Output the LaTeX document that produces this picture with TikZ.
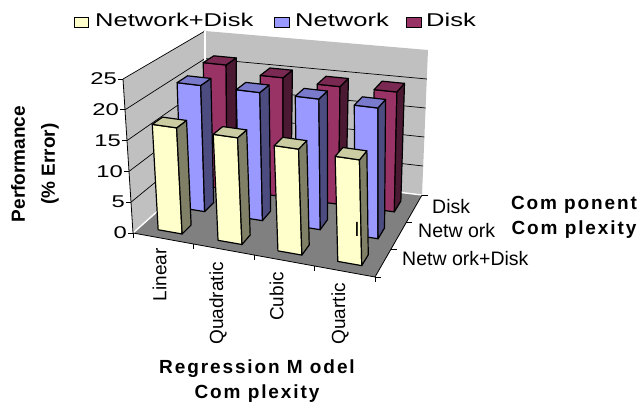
\documentclass[tikz,border=0pt]{standalone}
\usepackage{fontspec}
\setmainfont{Liberation Sans}
\newfontfamily\titlefont[LetterSpace=10]{Liberation Sans}
\definecolor{wallgray}{HTML}{C0C0C0}
\definecolor{floorgray}{HTML}{808080}
\definecolor{nwdisk}{HTML}{FFFFCC}
\definecolor{nw}{HTML}{9999FF}
\definecolor{dsk}{HTML}{993366}

% map (category 0..1, value 0..25, depth 0..1) onto the page by
% trilinear interpolation between the eight corners of the plot box
\newcommand\chartpt[4]{%
  \pgfmathsetmacro\qa{#2}%
  \pgfmathsetmacro\qb{(#3)/25}%
  \pgfmathsetmacro\qc{#4}%
  \pgfmathsetmacro\qx{(1-\qb)*((1-\qa)*(1-\qc)*133+\qa*(1-\qc)*375+(1-\qa)*\qc*205+\qa*\qc*422)+\qb*((1-\qa)*(1-\qc)*123+\qa*(1-\qc)*371+(1-\qa)*\qc*205+\qa*\qc*428)}%
  \pgfmathsetmacro\qy{(1-\qb)*((1-\qa)*(1-\qc)*233+\qa*(1-\qc)*277+(1-\qa)*\qc*169+\qa*\qc*195)+\qb*((1-\qa)*(1-\qc)*79+\qa*(1-\qc)*112+(1-\qa)*\qc*31+\qa*\qc*50)}%
  \coordinate (#1) at (\qx,\qy);%
}

% one 3-D column: colour, category index, series index, value
\newcommand\colbar[4]{%
  \pgfmathsetmacro\bxa{0.075+0.25*#2}%
  \pgfmathsetmacro\bxb{\bxa+0.1}%
  \pgfmathsetmacro\bza{#3/3+0.1}%
  \pgfmathsetmacro\bzb{\bza+0.1333}%
  \chartpt{f0}{\bxa}{0}{\bza}\chartpt{f1}{\bxb}{0}{\bza}%
  \chartpt{f2}{\bxb}{#4}{\bza}\chartpt{f3}{\bxa}{#4}{\bza}%
  \chartpt{b1}{\bxb}{0}{\bzb}\chartpt{b2}{\bxb}{#4}{\bzb}%
  \chartpt{b3}{\bxa}{#4}{\bzb}%
  \draw[barline, fill=#1] (f0) -- (f1) -- (f2) -- (f3) -- cycle;
  \draw[barline, fill=#1!50!black] (f1) -- (b1) -- (b2) -- (f2) -- cycle;
  \draw[barline, fill=#1!80!black] (f3) -- (f2) -- (b2) -- (b3) -- cycle;
}

\begin{document}
\begin{tikzpicture}[x=1pt, y=-1pt,
  barline/.style={draw=black, line width=1.2pt, line join=round},
  grid/.style={draw=black, line width=0.7pt},
  walledge/.style={draw=white, line width=1.4pt},
  axisline/.style={draw=black, line width=0.8pt},
  tickmark/.style={draw=black, line width=0.8pt},
  ticklabel/.style={inner sep=0pt, anchor=east, font=\fontsize{17}{17}\selectfont},
  catlabel/.style={inner sep=0pt, anchor=east, rotate=90, font=\fontsize{19}{19}\selectfont},
  depthlabel/.style={inner sep=0pt, anchor=base west, font=\fontsize{19.5}{19.5}\selectfont},
  legendbox/.style={draw=black, line width=1pt},
  legendtext/.style={inner sep=0pt, anchor=base west, font=\fontsize{18.5}{18.5}\selectfont},
  axistitle/.style={inner sep=0pt, align=center, font=\fontsize{19}{25}\selectfont\titlefont\bfseries}]
\useasboundingbox (0,0) rectangle (639,406);

% plot box corners
\chartpt{FL}{0}{0}{0}  \chartpt{FR}{1}{0}{0}
\chartpt{BL}{0}{0}{1}  \chartpt{BR}{1}{0}{1}
\chartpt{TFL}{0}{25}{0} \chartpt{TBL}{0}{25}{1} \chartpt{TBR}{1}{25}{1}

% floor and walls
\fill[floorgray] (FL) -- (FR) -- (BR) -- (BL) -- cycle;
\fill[wallgray] (FL) -- (TFL) -- (TBL) -- (BL) -- cycle;
\fill[wallgray] (BL) -- (TBL) -- (TBR) -- (BR) -- cycle;

% gridlines on the walls
\foreach \v in {5,10,15,20} {
  \chartpt{ga}{0}{\v}{0}\chartpt{gb}{0}{\v}{1}\chartpt{gc}{1}{\v}{1}
  \draw[grid] (ga) -- (gb) -- (gc);
}
\draw[grid] (TFL) -- (TBL);
\draw[walledge] (FL) -- (BL) -- (BR);
\draw[walledge] (BL) -- (TBL);

% value axis with ticks and labels
\draw[axisline] (FL) -- (TFL);
\foreach \v in {0,5,...,25} {
  \chartpt{yt}{0}{\v}{0}
  \draw[tickmark] (yt) -- ++(-5,0) coordinate (ytl);
  \node[ticklabel] (ylab\v) at ([xshift=-1pt]ytl) {\scalebox{1.4}[1]{\v}};
}

% category axis along the front edge
\draw[axisline] (FL) -- (FR);
\foreach \c in {0,0.25,0.5,0.75,1} {
  \chartpt{xt}{\c}{0}{0}
  \draw[tickmark] (xt) -- ++(0,5);
}
% depth axis along the right edge
\draw[axisline] (FR) -- (BR);
\foreach \z in {0,0.3333,0.6667,1} {
  \chartpt{zt}{1}{0}{\z}
  \draw[tickmark] (zt) -- ++(6,0);
}

% columns, back row first
\foreach \v [count=\i from 0] in {21.7,20.5,20.0,20.1} { \colbar{dsk}{\i}{2}{\v} }
\foreach \v [count=\i from 0] in {21.2,21.2,21.3,21.0} { \colbar{nw}{\i}{1}{\v} }
\foreach \v [count=\i from 0] in {17.2,17.0,16.6,16.3} { \colbar{nwdisk}{\i}{0}{\v} }

% category labels
\node[catlabel] (cLinear) at (159.5,248) {Linear};
\node[catlabel] (cQuad) at (218,262) {Quadratic};
\node[catlabel] (cCubic) at (276.5,272) {Cubic};
\node[catlabel] (cQuart) at (340,283) {Quartic};

% depth labels
\node[depthlabel] (dDisk) at (432,213) {Disk};
\node[depthlabel] (dNet) at (418,237) {Netw ork};
\node[depthlabel] (dBoth) at (402,265) {Netw ork+Disk};
\node[depthlabel, anchor=base] (stray) at (357,236) {l};

% axis titles
\node[axistitle] (ztitle) at (574,217) {Com ponent\\Com plexity};
\node[axistitle] (xtitle) at (257,381) {Regression M odel\\Com plexity};
\node[inner sep=0pt, align=center, rotate=90, font=\fontsize{19}{30}\selectfont\bfseries] (ytitle) at (35,164) {Performance\\(\% Error)};

% legend
\draw[legendbox, fill=nwdisk] (74,18) rectangle (88,28);
\node[legendtext] (lgBoth) at (95,27) {\scalebox{1.38}[1]{Network+Disk}};
\draw[legendbox, fill=nw] (274,18) rectangle (289,28);
\node[legendtext] (lgNet) at (295,27) {\scalebox{1.38}[1]{Network}};
\draw[legendbox, fill=dsk] (406,18) rectangle (421,28);
\node[legendtext] (lgDisk) at (426,27) {\scalebox{1.38}[1]{Disk}};
\end{tikzpicture}
\end{document}
